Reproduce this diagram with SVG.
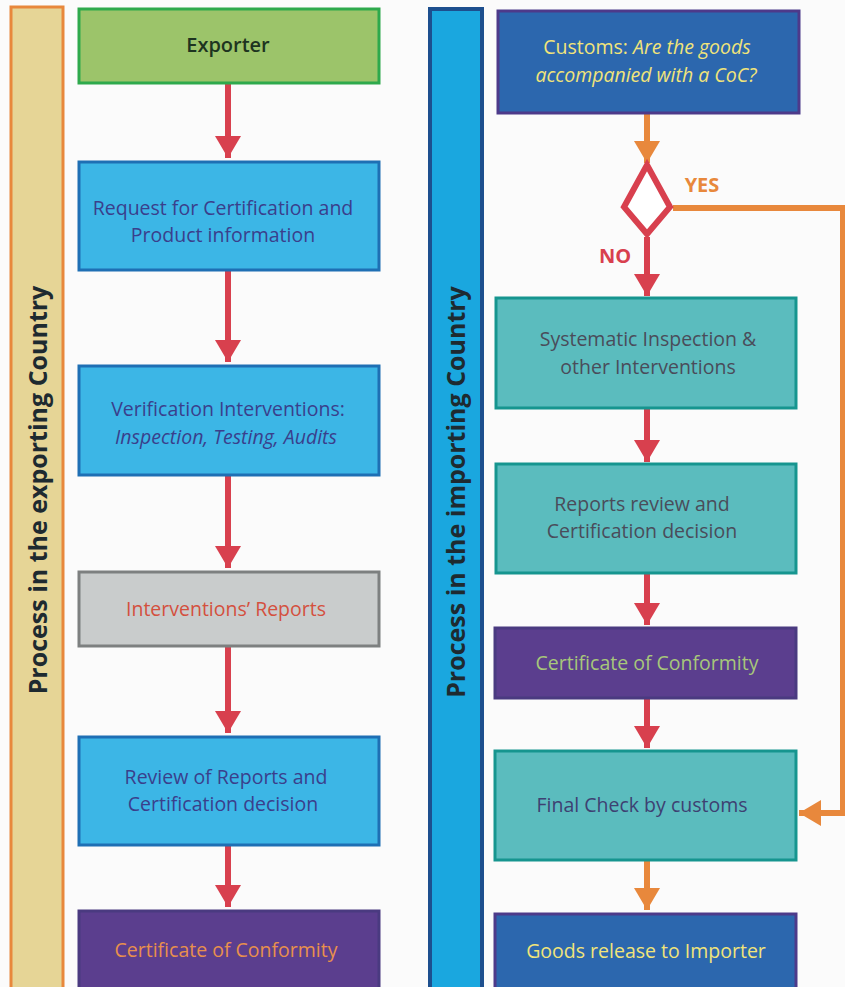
<svg xmlns="http://www.w3.org/2000/svg" width="845" height="987" viewBox="0 0 845 987">
<style>
text{font-family:"Open Sans","Noto Sans","Liberation Sans",sans-serif;text-anchor:middle;}
.t{font-size:19.5px;font-weight:500;}
.side{font-size:25px;font-weight:bold;fill:#1e2a30;}
.red{stroke:#d8404e;stroke-width:6;fill:none;}
.org{stroke:#e8883c;stroke-width:6;fill:none;}
.blue{fill:#3cb6e6;stroke:#1e6fb4;stroke-width:3;}
.teal{fill:#5bbcbe;stroke:#16958f;stroke-width:3;}
.purp{fill:#5b3e8e;stroke:#4a3a80;stroke-width:3;}
.navy{fill:#2c67ae;stroke:#4d3a8a;stroke-width:3;}
</style>
<defs>
<marker id="ar" markerUnits="userSpaceOnUse" markerWidth="28" markerHeight="26" refX="22" refY="13" orient="auto"><path d="M0,0 L22,13 L0,26 Z" fill="#d8404e"/></marker>
<marker id="ao" markerUnits="userSpaceOnUse" markerWidth="28" markerHeight="26" refX="22" refY="13" orient="auto"><path d="M0,0 L22,13 L0,26 Z" fill="#e8883c"/></marker>
</defs>
<rect width="845" height="987" fill="#fbfbfb"/>

<g id="lane-export">
<rect x="11" y="7" width="52" height="985" fill="#e6d596" stroke="#e8883c" stroke-width="3"/>
<text class="side" transform="translate(47,490) rotate(-90)">Process in the exporting Country</text>
</g>
<g id="lane-import">
<rect x="430" y="9" width="52" height="985" fill="#1aa7df" stroke="#1d4f8e" stroke-width="4"/>
<text class="side" transform="translate(465,492) rotate(-90)">Process in the importing Country</text>
</g>

<g id="connectors">
<line class="red" x1="228" y1="84" x2="228" y2="158" marker-end="url(#ar)"/>
<line class="red" x1="228" y1="271" x2="228" y2="362" marker-end="url(#ar)"/>
<line class="red" x1="228" y1="476" x2="228" y2="568" marker-end="url(#ar)"/>
<line class="red" x1="228" y1="647" x2="228" y2="733" marker-end="url(#ar)"/>
<line class="red" x1="228" y1="846" x2="228" y2="907" marker-end="url(#ar)"/>
<line class="org" x1="647" y1="114" x2="647" y2="163" marker-end="url(#ao)"/>
<polyline class="org" points="673,208 843,208 843,813 822,813"/>
<line class="org" x1="843" y1="813" x2="799" y2="813" marker-end="url(#ao)"/>
<line class="red" x1="647" y1="237" x2="647" y2="296" marker-end="url(#ar)"/>
<line class="red" x1="647" y1="409" x2="647" y2="462" marker-end="url(#ar)"/>
<line class="red" x1="647" y1="574" x2="647" y2="625" marker-end="url(#ar)"/>
<line class="red" x1="647" y1="699" x2="647" y2="748" marker-end="url(#ar)"/>
<line class="org" x1="647" y1="861" x2="647" y2="910" marker-end="url(#ao)"/>
<text x="702" y="192" font-size="20" font-weight="bold" fill="#e8883c">YES</text>
<text x="615" y="263" font-size="20" font-weight="bold" fill="#d8404e">NO</text>
</g>

<g id="exporter">
<rect x="79" y="9" width="300" height="74" fill="#9cc46a" stroke="#2ea94c" stroke-width="3"/>
<text x="228" y="52" font-size="20" fill="#1e3420" font-weight="600">Exporter</text>
</g>
<g id="request">
<rect class="blue" x="79" y="162" width="300" height="108"/>
<text class="t" x="223" y="215" fill="#3a3f8c">Request for Certification and</text>
<text class="t" x="223" y="242" fill="#3a3f8c">Product information</text>
</g>
<g id="verification">
<rect class="blue" x="79" y="366" width="300" height="109"/>
<text class="t" x="228" y="416" fill="#3a3f8c">Verification Interventions:</text>
<text class="t" x="226" y="444" fill="#3a3f8c" font-style="italic">Inspection, Testing, Audits</text>
</g>
<g id="reports">
<rect x="79" y="572" width="300" height="74" fill="#c9cccc" stroke="#7d8080" stroke-width="3"/>
<text class="t" x="226" y="616" fill="#d4503e">Interventions’ Reports</text>
</g>
<g id="review">
<rect class="blue" x="79" y="737" width="300" height="108"/>
<text class="t" x="226" y="784" fill="#3a3f8c">Review of Reports and</text>
<text class="t" x="223" y="811" fill="#3a3f8c">Certification decision</text>
</g>
<g id="coc-export">
<rect class="purp" x="79" y="911" width="300" height="80"/>
<text class="t" x="226" y="957" fill="#e8904c">Certificate of Conformity</text>
</g>

<g id="customs">
<rect class="navy" x="498" y="11" width="301" height="102"/>
<text class="t" x="647" y="54" fill="#f1e47a"><tspan>Customs: </tspan><tspan font-style="italic">Are the goods</tspan></text>
<text class="t" x="646" y="82" fill="#f1e47a" font-style="italic">accompanied with a CoC?</text>
</g>
<g id="decision">
<polygon points="647,165 670,207 647,234 624,207" fill="#ffffff" stroke="#d8404e" stroke-width="6" stroke-linejoin="miter"/>
</g>
<g id="systematic">
<rect class="teal" x="496" y="298" width="300" height="110"/>
<text class="t" x="648" y="346" fill="#4a4c5a">Systematic Inspection &amp;</text>
<text class="t" x="648" y="374" fill="#4a4c5a">other Interventions</text>
</g>
<g id="reports-review">
<rect class="teal" x="496" y="464" width="300" height="109"/>
<text class="t" x="642" y="511" fill="#4a4c5a">Reports review and</text>
<text class="t" x="642" y="538" fill="#4a4c5a">Certification decision</text>
</g>
<g id="coc-import">
<rect class="purp" x="495" y="628" width="301" height="70"/>
<text class="t" x="647" y="670" fill="#a7c77a">Certificate of Conformity</text>
</g>
<g id="final-check">
<rect class="teal" x="495" y="751" width="301" height="109"/>
<text class="t" x="642" y="812" fill="#3e4172">Final Check by customs</text>
</g>
<g id="release">
<rect class="navy" x="495" y="914" width="301" height="78"/>
<text class="t" x="646" y="958" fill="#f1e47a">Goods release to Importer</text>
</g>
</svg>
